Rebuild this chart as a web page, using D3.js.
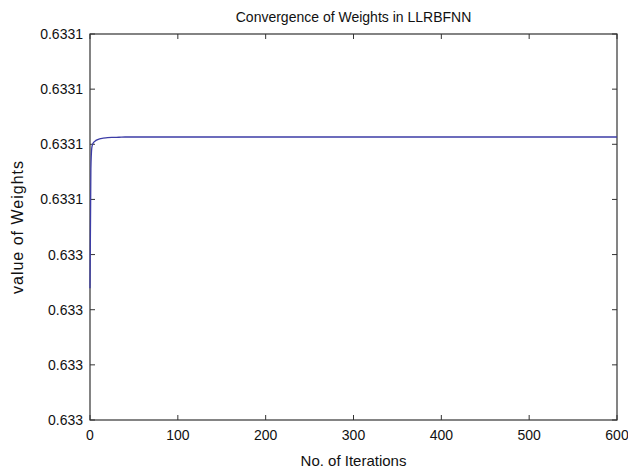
<!DOCTYPE html>
<html>
<head>
<meta charset="utf-8">
<script src="https://cdn.jsdelivr.net/npm/d3@7"></script>
<style>
  body { margin: 0; background: #fff; }
  text { font-family: "Liberation Sans", Arial, sans-serif; fill: #111; }
</style>
</head>
<body>
<svg id="chart"></svg>
<script>
// iterations and weight value (in units of y tick steps above the lowest tick)
var iters   = [0, 1, 2, 3, 4, 6, 8, 11, 15, 20, 26, 33, 40, 60, 600];
var weights = [2.39, 4.55, 4.93, 5.0, 5.03, 5.06, 5.08, 5.1, 5.11, 5.12, 5.125, 5.128, 5.132, 5.132, 5.132];

var xTicks = [0, 100, 200, 300, 400, 500, 600];
var yTicks = [0, 1, 2, 3, 4, 5, 6, 7];
var yTickLabels = ["0.633", "0.633", "0.633", "0.633", "0.6331", "0.6331", "0.6331", "0.6331"];

var width = 628, height = 471;
var margin = { left: 90, right: 11, top: 34, bottom: 51 };

var svg = d3.select("#chart").attr("width", width).attr("height", height);

var x = d3.scaleLinear().domain([0, 600]).range([margin.left, width - margin.right]);
var y = d3.scaleLinear().domain([0, 7]).range([height - margin.bottom, margin.top]);

var axisColor = "#333";

// box
svg.append("rect")
    .attr("x", x(0)).attr("y", y(7))
    .attr("width", x(600) - x(0)).attr("height", y(0) - y(7))
    .attr("fill", "none").attr("stroke", axisColor).attr("stroke-width", 1.2);

// ticks pointing inwards, on all four sides
var tl = 5;
xTicks.forEach(function (t) {
    svg.append("line").attr("x1", x(t)).attr("x2", x(t))
        .attr("y1", y(0)).attr("y2", y(0) - tl).attr("stroke", axisColor);
    svg.append("line").attr("x1", x(t)).attr("x2", x(t))
        .attr("y1", y(7)).attr("y2", y(7) + tl).attr("stroke", axisColor);
    svg.append("text").attr("x", x(t)).attr("y", y(0) + 20)
        .attr("text-anchor", "middle").attr("font-size", 14).text(t);
});
yTicks.forEach(function (t, i) {
    svg.append("line").attr("x1", x(0)).attr("x2", x(0) + tl)
        .attr("y1", y(t)).attr("y2", y(t)).attr("stroke", axisColor);
    svg.append("line").attr("x1", x(600)).attr("x2", x(600) - tl)
        .attr("y1", y(t)).attr("y2", y(t)).attr("stroke", axisColor);
    svg.append("text").attr("x", x(0) - 7).attr("y", y(t) + 5)
        .attr("text-anchor", "end").attr("font-size", 14).text(yTickLabels[i]);
});

// the line
var line = d3.line()
    .x(function (d, i) { return x(iters[i]); })
    .y(function (d) { return y(d); })
    .curve(d3.curveMonotoneX);

svg.append("path").datum(weights)
    .attr("d", line)
    .attr("fill", "none")
    .attr("stroke", "#3c3ca6")
    .attr("stroke-width", 1.3);

// titles
var cx = (x(0) + x(600)) / 2;
svg.append("text").attr("x", cx).attr("y", 22)
    .attr("text-anchor", "middle").attr("font-size", 14)
    .text("Convergence of Weights in LLRBFNN");
svg.append("text").attr("x", cx).attr("y", 466)
    .attr("text-anchor", "middle").attr("font-size", 15)
    .text("No. of Iterations");
svg.append("text")
    .attr("transform", "translate(23," + ((y(0) + y(7)) / 2) + ") rotate(-90)")
    .attr("text-anchor", "middle").attr("font-size", 16)
    .attr("letter-spacing", 1)
    .text("value of Weights");
</script>
</body>
</html>
